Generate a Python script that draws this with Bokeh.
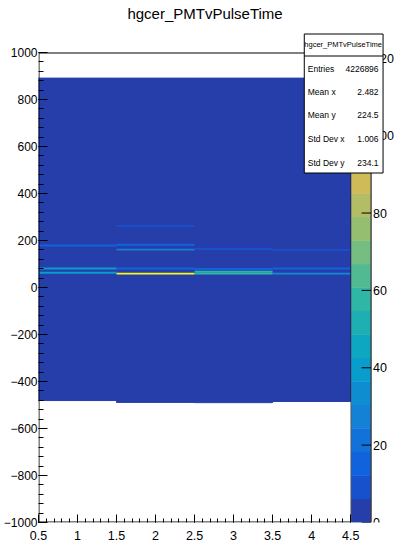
import numpy as np
from bokeh.plotting import figure
from bokeh.models import Range1d, FixedTicker, LinearColorMapper, ColumnDataSource
from bokeh.core.properties import value
from bokeh.embed import file_html
from bokeh.resources import INLINE

# ---------------- data ----------------
x_bins = [1, 2, 3, 4]              # x-bin centres (PMT)
x_bin_width = 1.0
y_bin_width = 8                    # pulse-time bin width
band_low = [-481, -489, -490, -485]     # lowest filled bin edge per x-bin
band_high = [891, 891, 891, 891]        # highest filled bin edge per x-bin
band_counts = [3, 3, 3, 3]              # low, uniform occupancy

line_x = [1, 1, 1, 2, 2, 2, 2, 2, 3, 3, 3, 3, 4, 4, 4]
line_y = [179, 81, 63, 262, 182, 161, 81, 59, 164, 79, 67, 59, 160, 81, 59]
line_counts = [14, 42, 38, 12, 16, 28, 14, 121, 12, 16, 58, 55, 10, 18, 32]

x_ticks = [0.5, 1, 1.5, 2, 2.5, 3, 3.5, 4, 4.5]
x_tick_labels = ["0.5", "1", "1.5", "2", "2.5", "3", "3.5", "4", "4.5"]
y_ticks = [-1000, -800, -600, -400, -200, 0, 200, 400, 600, 800, 1000]
y_tick_labels = ["\u22121000", "\u2212800", "\u2212600", "\u2212400", "\u2212200",
                 "0", "200", "400", "600", "800", "1000"]
z_ticks = [0, 20, 40, 60, 80, 100, 120]
z_tick_labels = ["0", "20", "40", "60", "80", "100", "120"]
z_max = 121.5
n_contours = 20

title_text = "hgcer_PMTvPulseTime"
stats_name = "hgcer_PMTvPulseTime"
stats_labels = ["Entries", "Mean x", "Mean y", "Std Dev x", "Std Dev y"]
stats_values = ["4226896", "2.482", "224.5", "1.006", "234.1"]

# ---------------- palette (ROOT kBird, 20 contours) ----------------
stops = [0.0, 0.125, 0.25, 0.375, 0.5, 0.625, 0.75, 0.875, 1.0]
red = [0.2082, 0.0592, 0.0780, 0.0232, 0.1802, 0.5301, 0.8186, 0.9956, 0.9764]
green = [0.1664, 0.3599, 0.5041, 0.6419, 0.7178, 0.7492, 0.7328, 0.7862, 0.9832]
blue = [0.5293, 0.8684, 0.8385, 0.7914, 0.6425, 0.4662, 0.3499, 0.1968, 0.0539]
palette = []
for i in range(n_contours):
    f = (i + 0.99) / n_contours
    r, g, b = (int(round(255 * np.interp(f, stops, c))) for c in (red, green, blue))
    palette.append("#%02x%02x%02x" % (r, g, b))

FONT = "Liberation Sans"
TICK_FS = "12.5px"
YTICK_FS = "12px"

# ---------------- layout (pixels) ----------------
W, H = 403, 548
FL, FR = 37, W          # frame left / right (frame extends under colour bar)
FT, FB = 0, 522         # frame top / bottom (frame extends under the title)
HX0, HX1 = 37, 350      # histogram box left / right
HY0, HY1 = 52, 522      # histogram box top / bottom

xs = (HX1 - HX0) / (4.5 - 0.5)
ys = (HY1 - HY0) / 2000.0
x_range = Range1d(0.5, 4.5 + (FR - HX1) / xs)
y_range = Range1d(-1000, 1000 + (HY0 - FT) / ys)

p = figure(width=W, height=H, output_backend="svg", toolbar_location=None,
           x_range=x_range, y_range=y_range,
           min_border_left=FL, min_border_right=0, min_border_top=FT,
           min_border_bottom=H - FB)
p.title.text = ""
p.extra_x_ranges = {"px": Range1d(FL, FR)}
p.extra_y_ranges = {"py": Range1d(FB, FT),
                    "z": Range1d(0, z_max * (FB - FT) / (HY1 - HY0))}
p.grid.visible = False
p.outline_line_color = None
p.background_fill_color = "white"
p.border_fill_color = "white"

mapper = LinearColorMapper(palette=palette, low=0, high=z_max)

band_src = ColumnDataSource(dict(
    left=[x - x_bin_width / 2 for x in x_bins],
    right=[x + x_bin_width / 2 for x in x_bins],
    bottom=band_low, top=band_high, count=band_counts))
p.quad(left="left", right="right", bottom="bottom", top="top", source=band_src,
       fill_color={"field": "count", "transform": mapper},
       line_color={"field": "count", "transform": mapper}, line_width=1)

line_src = ColumnDataSource(dict(
    left=[x - x_bin_width / 2 for x in line_x],
    right=[x + x_bin_width / 2 for x in line_x],
    bottom=[y - y_bin_width / 2 for y in line_y],
    top=[y + y_bin_width / 2 for y in line_y], count=line_counts))
p.quad(left="left", right="right", bottom="bottom", top="top", source=line_src,
       fill_color={"field": "count", "transform": mapper}, line_color=None)

# histogram frame box
p.quad(left=[HX0 + 0.5], right=[HX1 + 0.5], top=[HY0 + 0.5], bottom=[HY1 - 0.5],
       fill_color=None, line_color="black", line_width=1,
       x_range_name="px", y_range_name="py")

# title
p.text(x=[204], y=[13], text=[title_text], text_font=value(FONT),
       text_font_size=value("15px"), text_color="black",
       text_align="center", text_baseline="middle",
       x_range_name="px", y_range_name="py")

# colour bar (palette axis)
edges = np.linspace(0, z_max, n_contours + 1)
p.quad(left=[351] * n_contours, right=[370] * n_contours,
       bottom=edges[:-1], top=edges[1:], fill_color=palette, line_color=palette,
       line_width=0.5, x_range_name="px", y_range_name="z")
p.segment(x0=[370.5], y0=[0], x1=[370.5], y1=[z_max], line_color="black",
          line_width=1, x_range_name="px", y_range_name="z")
p.segment(x0=[361] * len(z_ticks), y0=z_ticks, x1=[370.5] * len(z_ticks), y1=z_ticks,
          line_color="black", line_width=1, x_range_name="px", y_range_name="z")
p.text(x=[372.5] * len(z_ticks), y=z_ticks, text=z_tick_labels,
       text_font=value(FONT), text_font_size=value(TICK_FS), text_color="black",
       text_align="left", text_baseline="middle",
       x_range_name="px", y_range_name="z")

# axes
xminor = [round(v, 2) for v in np.arange(0.5, 4.5001, 0.1)]
yminor = list(range(-1000, 1001, 40))
p.xaxis.ticker = FixedTicker(ticks=x_ticks, minor_ticks=xminor)
p.yaxis.ticker = FixedTicker(ticks=y_ticks, minor_ticks=yminor)
p.xaxis.major_label_overrides = {t: s for t, s in zip(x_ticks, x_tick_labels)}
p.yaxis.major_label_overrides = {t: s for t, s in zip(y_ticks, y_tick_labels)}
for ax in (p.xaxis, p.yaxis):
    ax.axis_line_color = None
    ax.major_tick_line_color = "black"
    ax.minor_tick_line_color = "black"
    ax.major_tick_out = 0
    ax.minor_tick_out = 0
    ax.major_label_text_font = FONT
    ax.major_label_text_color = "black"
p.xaxis.major_label_text_font_size = TICK_FS
p.yaxis.major_label_text_font_size = YTICK_FS
p.xaxis.major_tick_in = 8
p.xaxis.minor_tick_in = 4
p.xaxis.major_label_standoff = 8
p.yaxis.major_tick_in = 9
p.yaxis.minor_tick_in = 5
p.yaxis.major_label_standoff = 1

# statistics box
SB_L, SB_R, SB_T, SB_B, SB_SEP = 303, 382, 33, 172, 55
p.quad(left=[SB_L + 0.5], right=[SB_R + 0.5], top=[SB_T + 0.5], bottom=[SB_B + 0.5],
       fill_color="white", line_color="black", line_width=1,
       x_range_name="px", y_range_name="py")
p.segment(x0=[SB_L + 0.5], y0=[SB_SEP + 0.5], x1=[SB_R + 0.5], y1=[SB_SEP + 0.5],
          line_color="black", line_width=1, x_range_name="px", y_range_name="py")
p.text(x=[(SB_L + SB_R) / 2], y=[(SB_T + SB_SEP) / 2], text=[stats_name],
       text_font=value(FONT), text_font_size=value("7.5px"), text_color="black",
       text_align="center", text_baseline="middle",
       x_range_name="px", y_range_name="py")
row_y = [68, 91, 114.5, 138, 162]
p.text(x=[SB_L + 4] * len(stats_labels), y=row_y, text=stats_labels,
       text_font=value(FONT), text_font_size=value("8.5px"), text_color="black",
       text_align="left", text_baseline="middle",
       x_range_name="px", y_range_name="py")
p.text(x=[SB_R - 4] * len(stats_values), y=row_y, text=stats_values,
       text_font=value(FONT), text_font_size=value("8.5px"), text_color="black",
       text_align="right", text_baseline="middle",
       x_range_name="px", y_range_name="py")

with open("out.html", "w") as f:
    f.write(file_html(p, INLINE))
